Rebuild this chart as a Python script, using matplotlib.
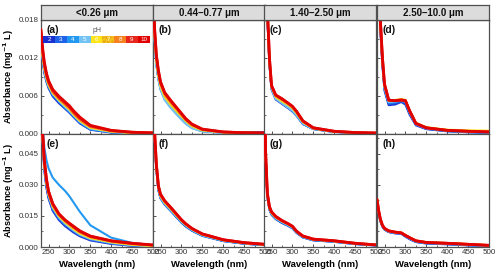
import matplotlib
matplotlib.use("Agg")
import matplotlib.pyplot as plt
from matplotlib.patches import Rectangle
from matplotlib.ticker import MultipleLocator, FormatStrFormatter

plt.rcParams['font.family'] = ['Liberation Sans', 'DejaVu Sans']

# ---------------- data (absorbance x 1e-3) ----------------
wavelength = [232, 236, 240, 245, 250, 260, 275, 290, 300, 310, 325, 350, 400, 450, 500]
ph_values = ["2", "3", "4", "5", "6", "7", "8", "9", "10"]
ph_colors = ["#1a2fd0", "#1f63e8", "#2398f0", "#74c3f5", "#ffe51a",
             "#f2c21a", "#f5821f", "#e8261c", "#e10000"]
size_titles = ["<0.26 μm", "0.44–0.77 μm", "1.40–2.50 μm", "2.50–10.0 μm"]
panel_tags = ["(a)", "(b)", "(c)", "(d)", "(e)", "(f)", "(g)", "(h)"]

panel_a = [
    [14.0, 11.5, 9.6, 8.2, 7.2, 5.9, 4.8, 3.9, 3.3, 2.6, 1.6, 0.6, 0.15, 0.05, 0.0],
    [14.2, 11.7, 9.8, 8.4, 7.4, 6.1, 5.0, 4.0, 3.4, 2.7, 1.7, 0.65, 0.18, 0.05, 0.0],
    [14.4, 11.9, 10.0, 8.5, 7.5, 6.2, 5.1, 4.1, 3.5, 2.8, 1.8, 0.7, 0.2, 0.06, 0.02],
    [14.6, 12.0, 10.1, 8.6, 7.6, 6.3, 5.2, 4.2, 3.6, 2.9, 1.9, 0.8, 0.25, 0.08, 0.03],
    [14.8, 12.2, 10.3, 8.8, 7.7, 6.4, 5.3, 4.4, 3.8, 3.0, 2.0, 0.9, 0.3, 0.1, 0.04],
    [15.0, 12.4, 10.4, 8.9, 7.8, 6.5, 5.4, 4.5, 3.9, 3.1, 2.1, 1.0, 0.35, 0.12, 0.05],
    [15.5, 12.7, 10.7, 9.1, 8.0, 6.6, 5.5, 4.6, 4.0, 3.2, 2.2, 1.05, 0.4, 0.15, 0.06],
    [16.0, 13.0, 11.0, 9.3, 8.2, 6.8, 5.7, 4.8, 4.2, 3.4, 2.4, 1.2, 0.45, 0.2, 0.1],
    [16.5, 13.5, 11.3, 9.6, 8.4, 7.0, 5.9, 5.0, 4.4, 3.6, 2.6, 1.3, 0.5, 0.2, 0.1],
]
panel_b = [
    [22.0, 15.0, 11.2, 8.8, 7.2, 5.6, 4.3, 3.2, 2.5, 1.8, 1.0, 0.4, 0.2, 0.2, 0.2],
    [22.0, 15.0, 11.1, 8.7, 7.1, 5.5, 4.2, 3.1, 2.4, 1.7, 0.95, 0.38, 0.15, 0.1, 0.08],
    [21.8, 14.8, 11.0, 8.6, 7.0, 5.4, 4.1, 3.0, 2.3, 1.6, 0.9, 0.35, 0.12, 0.08, 0.05],
    [21.8, 14.8, 11.0, 8.6, 7.0, 5.3, 4.0, 2.9, 2.2, 1.55, 0.85, 0.33, 0.1, 0.06, 0.04],
    [22.5, 15.3, 11.5, 9.1, 7.5, 5.8, 4.5, 3.4, 2.7, 2.0, 1.15, 0.5, 0.18, 0.1, 0.06],
    [22.8, 15.6, 11.8, 9.3, 7.7, 6.0, 4.7, 3.6, 2.8, 2.1, 1.25, 0.55, 0.2, 0.1, 0.07],
    [23.0, 15.9, 12.0, 9.6, 7.9, 6.2, 4.9, 3.8, 3.0, 2.2, 1.35, 0.6, 0.22, 0.11, 0.07],
    [23.5, 16.2, 12.3, 9.8, 8.1, 6.4, 5.1, 3.9, 3.1, 2.3, 1.45, 0.65, 0.24, 0.12, 0.08],
    [24.0, 16.5, 12.5, 10.0, 8.2, 6.5, 5.2, 4.0, 3.2, 2.4, 1.5, 0.7, 0.25, 0.12, 0.08],
]
panel_c = [
    [38.0, 28.0, 18.5, 11.0, 7.0, 5.4, 4.7, 4.0, 3.5, 2.8, 1.5, 0.7, 0.25, 0.1, 0.05],
    [38.0, 28.0, 18.6, 11.1, 7.1, 5.5, 4.8, 4.1, 3.6, 2.9, 1.55, 0.72, 0.26, 0.1, 0.05],
    [38.5, 28.5, 18.8, 11.2, 7.2, 5.6, 4.9, 4.2, 3.7, 2.9, 1.6, 0.75, 0.27, 0.11, 0.05],
    [38.5, 28.5, 18.8, 11.2, 7.2, 5.5, 4.8, 4.1, 3.6, 2.9, 1.6, 0.74, 0.27, 0.11, 0.05],
    [39.0, 29.0, 19.2, 11.5, 7.4, 5.8, 5.1, 4.5, 4.0, 3.2, 1.8, 0.8, 0.3, 0.12, 0.06],
    [39.0, 29.0, 19.3, 11.6, 7.4, 5.9, 5.2, 4.6, 4.1, 3.3, 1.85, 0.82, 0.31, 0.13, 0.06],
    [39.5, 29.5, 19.6, 11.8, 7.5, 6.0, 5.4, 4.7, 4.2, 3.4, 1.9, 0.85, 0.33, 0.14, 0.07],
    [40.0, 30.0, 19.8, 11.9, 7.6, 6.1, 5.5, 4.8, 4.3, 3.5, 2.0, 0.9, 0.35, 0.15, 0.08],
    [40.0, 30.0, 20.0, 12.0, 7.6, 6.1, 5.5, 4.8, 4.3, 3.5, 2.0, 0.9, 0.35, 0.15, 0.08],
]
panel_d = [
    [38.0, 26.0, 16.5, 10.8, 6.8, 4.5, 4.6, 5.0, 4.6, 3.0, 1.3, 0.7, 0.35, 0.2, 0.1],
    [38.5, 26.5, 16.8, 11.0, 7.0, 4.7, 4.8, 5.1, 4.8, 3.2, 1.4, 0.75, 0.38, 0.22, 0.12],
    [39.0, 27.0, 17.0, 11.2, 7.2, 4.9, 5.0, 5.2, 5.0, 3.3, 1.45, 0.8, 0.4, 0.25, 0.15],
    [39.0, 27.0, 17.2, 11.3, 7.3, 5.0, 5.1, 5.3, 5.1, 3.4, 1.5, 0.85, 0.45, 0.3, 0.2],
    [39.5, 27.5, 17.5, 11.6, 7.5, 5.2, 5.3, 5.4, 5.3, 3.6, 1.7, 1.0, 0.6, 0.5, 0.45],
    [39.5, 27.5, 17.6, 11.7, 7.6, 5.2, 5.3, 5.4, 5.3, 3.6, 1.65, 0.95, 0.55, 0.42, 0.35],
    [40.0, 27.8, 17.8, 11.8, 7.7, 5.3, 5.3, 5.4, 5.3, 3.6, 1.6, 0.9, 0.5, 0.38, 0.28],
    [40.0, 28.0, 18.0, 12.0, 7.8, 5.3, 5.2, 5.3, 5.2, 3.6, 1.6, 0.9, 0.5, 0.35, 0.25],
    [40.0, 28.0, 18.0, 12.0, 7.8, 5.3, 5.2, 5.3, 5.2, 3.6, 1.6, 0.9, 0.5, 0.35, 0.25],
]
panel_e = [
    [66.0, 50.0, 37.0, 28.5, 23.5, 17.5, 13.0, 10.0, 8.5, 7.0, 5.2, 3.2, 1.5, 0.6, 0.2],
    [67.0, 51.0, 38.0, 29.5, 24.0, 18.0, 13.5, 10.5, 9.0, 7.5, 5.6, 3.5, 1.7, 0.7, 0.3],
    [70.0, 58.0, 48.0, 42.0, 38.0, 33.5, 30.0, 27.0, 24.5, 21.5, 17.0, 10.5, 4.5, 2.0, 0.8],
    [68.0, 52.0, 39.0, 30.5, 25.0, 19.0, 14.2, 11.2, 9.6, 8.0, 6.0, 3.9, 2.0, 0.9, 0.4],
    [68.0, 52.5, 39.5, 31.0, 25.5, 19.5, 14.8, 11.8, 10.2, 8.6, 6.5, 4.3, 2.3, 1.1, 0.5],
    [69.0, 53.0, 40.0, 31.5, 26.0, 20.0, 15.2, 12.2, 10.6, 9.0, 6.9, 4.6, 2.5, 1.3, 0.6],
    [69.0, 53.5, 40.5, 32.0, 26.3, 20.3, 15.5, 12.5, 10.9, 9.4, 7.2, 4.9, 2.7, 1.5, 0.8],
    [70.0, 54.5, 41.5, 32.5, 26.8, 20.7, 15.8, 12.8, 11.2, 9.7, 7.5, 5.1, 2.9, 1.7, 0.9],
    [70.0, 55.0, 42.0, 33.0, 27.0, 21.0, 16.0, 13.0, 11.5, 10.0, 7.8, 5.3, 3.0, 1.8, 1.0],
]
panel_f = [
    [72.0, 52.0, 37.5, 27.5, 23.5, 20.5, 17.3, 14.0, 11.8, 10.0, 7.9, 5.4, 2.9, 1.6, 0.9],
    [72.0, 52.0, 37.5, 27.5, 23.6, 20.6, 17.4, 14.1, 11.9, 10.1, 8.0, 5.5, 2.9, 1.6, 0.9],
    [72.5, 52.5, 37.8, 27.8, 23.8, 20.8, 17.6, 14.3, 12.1, 10.3, 8.1, 5.6, 3.0, 1.7, 1.0],
    [73.0, 53.0, 38.0, 28.0, 24.0, 21.0, 17.8, 14.5, 12.3, 10.5, 8.3, 5.7, 3.1, 1.8, 1.0],
    [73.5, 53.5, 38.5, 28.5, 24.5, 21.4, 18.2, 14.8, 12.6, 10.8, 8.6, 6.0, 3.3, 1.9, 1.1],
    [74.0, 54.0, 39.0, 28.8, 24.8, 21.7, 18.5, 15.0, 12.8, 11.0, 8.7, 6.1, 3.4, 2.0, 1.2],
    [74.5, 54.5, 39.5, 29.0, 25.0, 22.0, 18.7, 15.2, 13.0, 11.1, 8.8, 6.2, 3.4, 2.0, 1.2],
    [75.0, 55.0, 40.0, 29.3, 25.3, 22.2, 18.9, 15.4, 13.1, 11.2, 8.9, 6.3, 3.5, 2.1, 1.3],
    [75.0, 55.0, 40.0, 29.5, 25.5, 22.3, 19.0, 15.5, 13.2, 11.3, 9.0, 6.3, 3.5, 2.1, 1.3],
]
panel_g = [
    [88.0, 43.0, 24.5, 18.0, 15.6, 13.5, 11.6, 10.2, 9.0, 6.8, 4.6, 3.2, 2.5, 1.4, 0.7],
    [88.0, 43.0, 24.6, 18.1, 15.7, 13.6, 11.7, 10.3, 9.1, 6.9, 4.7, 3.3, 2.6, 1.5, 0.8],
    [88.5, 43.5, 24.8, 18.3, 15.9, 13.8, 11.9, 10.4, 9.2, 7.0, 4.8, 3.4, 2.6, 1.5, 0.8],
    [89.0, 44.0, 25.0, 18.5, 16.1, 14.0, 12.1, 10.6, 9.4, 7.2, 4.9, 3.5, 2.7, 1.6, 0.9],
    [89.0, 44.0, 25.2, 18.8, 16.4, 14.3, 12.4, 10.9, 9.7, 7.4, 5.1, 3.6, 2.8, 1.7, 1.0],
    [89.5, 44.5, 25.5, 19.0, 16.6, 14.5, 12.5, 11.0, 9.8, 7.5, 5.2, 3.7, 2.9, 1.7, 1.0],
    [90.0, 44.5, 25.7, 19.2, 16.8, 14.6, 12.6, 11.1, 9.9, 7.5, 5.2, 3.7, 2.9, 1.8, 1.0],
    [90.0, 45.0, 25.9, 19.4, 16.9, 14.7, 12.7, 11.2, 10.0, 7.6, 5.3, 3.8, 3.0, 1.8, 1.0],
    [90.0, 45.0, 26.0, 19.5, 17.0, 14.8, 12.8, 11.2, 10.0, 7.6, 5.3, 3.8, 3.0, 1.8, 1.0],
]
panel_h = [
    [22.0, 16.5, 12.5, 9.8, 8.4, 7.2, 6.6, 6.4, 5.0, 3.8, 2.4, 1.7, 1.3, 0.8, 0.4],
    [22.2, 16.7, 12.7, 9.9, 8.5, 7.3, 6.7, 6.5, 5.1, 3.9, 2.5, 1.8, 1.4, 0.9, 0.5],
    [22.4, 16.9, 12.9, 10.0, 8.6, 7.4, 6.8, 6.6, 5.3, 4.1, 2.6, 1.9, 1.5, 1.0, 0.6],
    [22.5, 17.0, 13.0, 10.1, 8.7, 7.5, 6.9, 6.7, 5.4, 4.2, 2.7, 2.0, 1.6, 1.1, 0.6],
    [22.8, 17.3, 13.3, 10.4, 8.9, 7.7, 7.2, 7.1, 5.8, 4.6, 3.1, 2.3, 1.9, 1.4, 0.9],
    [22.8, 17.3, 13.3, 10.4, 8.9, 7.7, 7.1, 7.0, 5.7, 4.6, 3.0, 2.2, 1.8, 1.3, 0.8],
    [22.9, 17.4, 13.4, 10.4, 8.9, 7.7, 7.1, 6.9, 5.7, 4.5, 3.0, 2.2, 1.8, 1.3, 0.8],
    [23.0, 17.5, 13.5, 10.5, 9.0, 7.8, 7.2, 6.8, 5.6, 4.5, 3.0, 2.2, 1.8, 1.3, 0.8],
    [23.0, 17.5, 13.5, 10.5, 9.0, 7.8, 7.2, 6.8, 5.6, 4.5, 3.0, 2.2, 1.8, 1.3, 0.8],
]
panels = [panel_a, panel_b, panel_c, panel_d, panel_e, panel_f, panel_g, panel_h]
row_ylims = [(0, 0.018), (0, 0.0548)]
row_major = [0.006, 0.015]
xlim = (232, 500)

# ---------------- figure ----------------
W, H = 500, 276
fig = plt.figure(figsize=(W / 100, H / 100), dpi=100)
fig.patch.set_facecolor("white")

col_left = [41, 153, 264, 377]
col_w = 112
row_top = [20, 133.5]
row_h = 113.5
spine_col = "#505050"

axes = []
for r in range(2):
    for c in range(4):
        l = col_left[c] / W
        b = 1 - (row_top[r] + row_h) / H
        ax = fig.add_axes([l, b, col_w / W, row_h / H])
        axes.append(ax)
        data = panels[r * 4 + c]
        for k, series in enumerate(data):
            ax.plot(wavelength, [v * 1e-3 for v in series], color=ph_colors[k],
                    lw=2.0 if k >= 7 else 1.5, solid_capstyle="round", zorder=2 + k)
        ax.set_xlim(*xlim)
        ax.set_ylim(*row_ylims[r])
        ax.xaxis.set_major_locator(MultipleLocator(50))
        ax.xaxis.set_minor_locator(MultipleLocator(25))
        ax.yaxis.set_major_locator(MultipleLocator(row_major[r]))
        ax.yaxis.set_minor_locator(MultipleLocator(row_major[r] / 2))
        ax.yaxis.set_major_formatter(FormatStrFormatter("%.3f"))
        ax.tick_params(which="both", direction="in", color=spine_col, labelsize=5.8,
                       labelcolor="#333333", pad=1.5)
        ax.tick_params(which="major", length=2.5, width=0.7)
        ax.tick_params(which="minor", length=1.5, width=0.6)
        for s in ax.spines.values():
            s.set_color(spine_col)
            s.set_linewidth(0.9)
        if c != 0:
            ax.tick_params(labelleft=False)
        if r == 0:
            ax.tick_params(labelbottom=False)
        else:
            ax.set_xlabel("Wavelength (nm)", fontsize=6.8, fontweight="bold", labelpad=3)
        if c == 0:
            ax.set_ylabel("Absorbance (mg$^{\\mathbf{-1}}$ L)", fontsize=6.6,
                          fontweight="bold")
            ax.yaxis.set_label_coords(-0.225, 0.5)
        ax.text(0.05, 0.955, panel_tags[r * 4 + c], transform=ax.transAxes,
                fontsize=7.5, fontweight="bold", va="top", ha="left", color="#111111")

# strip titles
for c in range(4):
    sx = fig.add_axes([col_left[c] / W, 1 - 20 / H, col_w / W, 15 / H])
    sx.set_facecolor("#dcdcdc")
    sx.set_xticks([])
    sx.set_yticks([])
    for s in sx.spines.values():
        s.set_color(spine_col)
        s.set_linewidth(0.9)
    sx.text(0.5, 0.45, size_titles[c], ha="center", va="center", fontsize=7,
            fontweight="bold", transform=sx.transAxes, color="#111111")

# pH legend in panel (a)
ax = axes[0]
x0, x1 = 0.02, 0.97
y0, hbox = 0.80, 0.055
wbox = (x1 - x0) / len(ph_values)
for k, lab in enumerate(ph_values):
    rect = Rectangle((x0 + k * wbox, y0), wbox, hbox, transform=ax.transAxes,
                     facecolor=ph_colors[k], edgecolor="none", zorder=20,
                     hatch="...." if lab == "7" else None)
    if lab == "7":
        rect.set_edgecolor("#e8a010")
        rect.set_linewidth(0)
    ax.add_patch(rect)
    ax.text(x0 + (k + 0.5) * wbox, y0 + hbox / 2, lab, transform=ax.transAxes,
            ha="center", va="center", fontsize=4.5, color="white", zorder=21)
ax.text(0.5, 0.905, "pH", transform=ax.transAxes, ha="center", va="center",
        fontsize=5, color="#555555", zorder=21)

fig.savefig("out.png", dpi=100)
